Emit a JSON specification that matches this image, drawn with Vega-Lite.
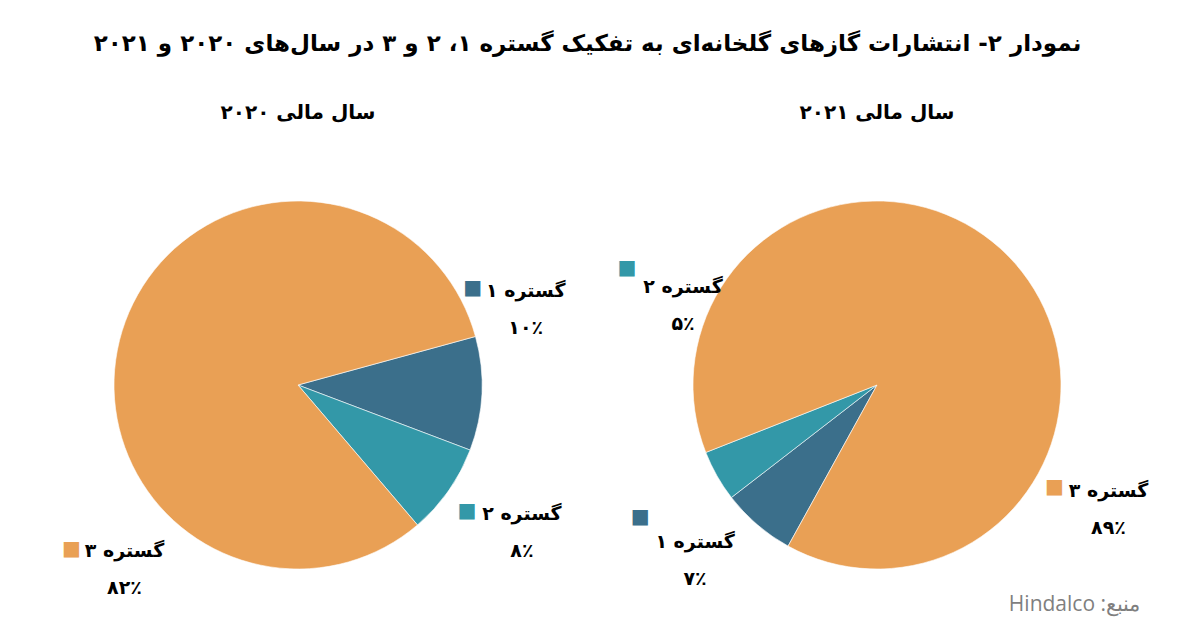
{
  "$schema": "https://vega.github.io/schema/vega-lite/v6.json",
  "padding": {"left": 18, "top": 33, "right": 0, "bottom": 12},
  "background": "#ffffff",
  "config": {"view": {"stroke": null}},
  "title": {"text": "Hindalco :منبع", "orient": "bottom", "anchor": "end", "offset": -11, "dx": -17, "font": "Open Sans", "fontSize": 21, "fontWeight": "normal", "color": "#7f7f7f"},
  "vconcat": [
    {
      "title": {"text": "نمودار ۲- انتشارات گازهای گلخانه‌ای به تفکیک گستره ۱، ۲ و ۳ در سال‌های ۲۰۲۰ و ۲۰۲۱", "anchor": "middle", "offset": 47, "font": "DejaVu Sans", "fontSize": 23, "fontWeight": "bold", "color": "#000000"},
      "spacing": 19,
      "hconcat": [
        {
          "width": 560,
          "height": 440,
          "title": {"text": "سال مالی ۲۰۲۰", "anchor": "middle", "offset": 42, "font": "DejaVu Sans", "fontSize": 20, "fontWeight": "bold", "color": "#000000"},
          "data": {"values": [
            {"k": "s1", "scope": "گستره ۱", "value": 10, "label": "گستره ۱\n۱۰٪"},
            {"k": "s2", "scope": "گستره ۲", "value": 8, "label": "گستره ۲\n۸٪"},
            {"k": "s3", "scope": "گستره ۳", "value": 82, "label": "گستره ۳\n۸۲٪"}
          ]},
          "encoding": {
            "theta": {"field": "value", "type": "quantitative", "stack": true, "scale": {"range": [1.304, 7.587]}},
            "color": {"field": "scope", "type": "nominal", "legend": null, "scale": {"domain": ["گستره ۱", "گستره ۲", "گستره ۳"], "range": ["#3b6f8b", "#3398a8", "#e9a055"]}}
          },
          "layer": [
            {"mark": {"type": "arc", "outerRadius": 184, "stroke": "#ffffff", "strokeWidth": 0.6}},
            {"mark": {"type": "text", "clip": true, "radius": 215, "dx": 13, "dy": -104, "font": "DejaVu Sans", "fontSize": 19, "fontWeight": "bold", "lineBreak": "\n", "lineHeight": 37, "align": "center", "baseline": "middle"},
             "encoding": {"color": {"value": "#000000"}, "detail": {"field": "scope"}, "text": {"condition": {"test": "datum.k === 's1'", "field": "label"}, "value": ""}}},
            {"mark": {"type": "text", "clip": true, "radius": 215, "dx": 48, "dy": 5, "font": "DejaVu Sans", "fontSize": 19, "fontWeight": "bold", "lineBreak": "\n", "lineHeight": 37, "align": "center", "baseline": "middle"},
             "encoding": {"color": {"value": "#000000"}, "detail": {"field": "scope"}, "text": {"condition": {"test": "datum.k === 's2'", "field": "label"}, "value": ""}}},
            {"mark": {"type": "text", "clip": true, "radius": 215, "dx": 32, "dy": 229, "font": "DejaVu Sans", "fontSize": 19, "fontWeight": "bold", "lineBreak": "\n", "lineHeight": 37, "align": "center", "baseline": "middle"},
             "encoding": {"color": {"value": "#000000"}, "detail": {"field": "scope"}, "text": {"condition": {"test": "datum.k === 's3'", "field": "label"}, "value": ""}}},
            {"mark": {"type": "text", "clip": true, "radius": 215, "dx": -40, "dy": -107, "font": "DejaVu Sans", "fontSize": 20, "align": "center", "baseline": "middle"},
             "encoding": {"text": {"condition": {"test": "datum.k === 's1'", "value": "■"}, "value": ""}}},
            {"mark": {"type": "text", "clip": true, "radius": 215, "dx": -7, "dy": 2, "font": "DejaVu Sans", "fontSize": 20, "align": "center", "baseline": "middle"},
             "encoding": {"text": {"condition": {"test": "datum.k === 's2'", "value": "■"}, "value": ""}}},
            {"mark": {"type": "text", "clip": true, "radius": 215, "dx": -21, "dy": 227, "font": "DejaVu Sans", "fontSize": 20, "align": "center", "baseline": "middle"},
             "encoding": {"text": {"condition": {"test": "datum.k === 's3'", "value": "■"}, "value": ""}}}
          ]
        },
        {
          "width": 560,
          "height": 440,
          "title": {"text": "سال مالی ۲۰۲۱", "anchor": "middle", "offset": 42, "font": "DejaVu Sans", "fontSize": 20, "fontWeight": "bold", "color": "#000000"},
          "data": {"values": [
            {"k": "s1", "scope": "گستره ۱", "value": 6.5, "label": "گستره ۱\n۷٪"},
            {"k": "s2", "scope": "گستره ۲", "value": 4.5, "label": "گستره ۲\n۵٪"},
            {"k": "s3", "scope": "گستره ۳", "value": 89, "label": "گستره ۳\n۸۹٪"}
          ]},
          "encoding": {
            "theta": {"field": "value", "type": "quantitative", "stack": true, "scale": {"range": [3.646, 9.929]}},
            "color": {"field": "scope", "type": "nominal", "legend": null, "scale": {"domain": ["گستره ۱", "گستره ۲", "گستره ۳"], "range": ["#3b6f8b", "#3398a8", "#e9a055"]}}
          },
          "layer": [
            {"mark": {"type": "arc", "outerRadius": 184, "stroke": "#ffffff", "strokeWidth": 0.6}},
            {"mark": {"type": "text", "clip": true, "radius": 215, "dx": -42, "dy": -6, "font": "DejaVu Sans", "fontSize": 19, "fontWeight": "bold", "lineBreak": "\n", "lineHeight": 37, "align": "center", "baseline": "middle"},
             "encoding": {"color": {"value": "#000000"}, "detail": {"field": "scope"}, "text": {"condition": {"test": "datum.k === 's1'", "field": "label"}, "value": ""}}},
            {"mark": {"type": "text", "clip": true, "radius": 215, "dx": -7, "dy": -204, "font": "DejaVu Sans", "fontSize": 19, "fontWeight": "bold", "lineBreak": "\n", "lineHeight": 37, "align": "center", "baseline": "middle"},
             "encoding": {"color": {"value": "#000000"}, "detail": {"field": "scope"}, "text": {"condition": {"test": "datum.k === 's2'", "field": "label"}, "value": ""}}},
            {"mark": {"type": "text", "clip": true, "radius": 215, "dx": 70, "dy": 248, "font": "DejaVu Sans", "fontSize": 19, "fontWeight": "bold", "lineBreak": "\n", "lineHeight": 37, "align": "center", "baseline": "middle"},
             "encoding": {"color": {"value": "#000000"}, "detail": {"field": "scope"}, "text": {"condition": {"test": "datum.k === 's3'", "field": "label"}, "value": ""}}},
            {"mark": {"type": "text", "clip": true, "radius": 215, "dx": -97, "dy": -31, "font": "DejaVu Sans", "fontSize": 20, "align": "center", "baseline": "middle"},
             "encoding": {"text": {"condition": {"test": "datum.k === 's1'", "value": "■"}, "value": ""}}},
            {"mark": {"type": "text", "clip": true, "radius": 215, "dx": -63, "dy": -223, "font": "DejaVu Sans", "fontSize": 20, "align": "center", "baseline": "middle"},
             "encoding": {"text": {"condition": {"test": "datum.k === 's2'", "value": "■"}, "value": ""}}},
            {"mark": {"type": "text", "clip": true, "radius": 215, "dx": 16, "dy": 244, "font": "DejaVu Sans", "fontSize": 20, "align": "center", "baseline": "middle"},
             "encoding": {"text": {"condition": {"test": "datum.k === 's3'", "value": "■"}, "value": ""}}}
          ]
        }
      ]
    }
  ]
}
